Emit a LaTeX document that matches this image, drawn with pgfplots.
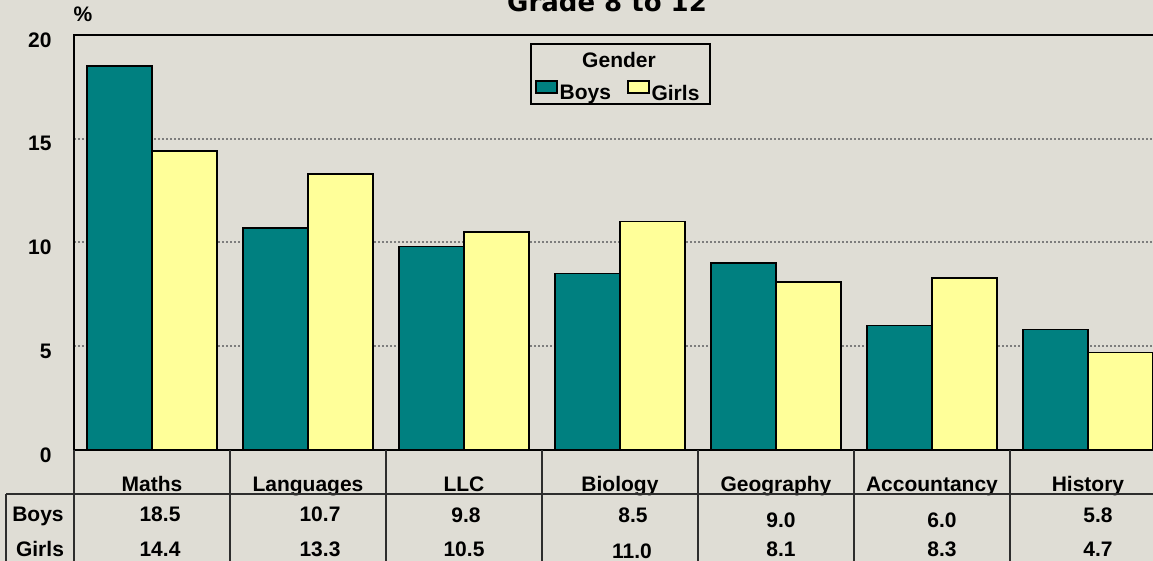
\documentclass[border=0pt]{standalone}
\usepackage{fontspec}
\setmainfont{Liberation Sans}
\newfontfamily\titlefont{DejaVu Sans}
\usepackage{pgfplots}
\pgfplotsset{compat=1.18}
\definecolor{bgcol}{RGB}{223,221,213}
\definecolor{boys}{RGB}{0,128,128}
\definecolor{girls}{RGB}{255,255,153}
\definecolor{gridc}{RGB}{125,125,125}
\definecolor{tabline}{RGB}{45,45,45}
\pgfplotsset{barleg/.style={legend image code/.code={\draw[##1] (0pt,0pt) rectangle (21pt,12pt);}}}

\begin{document}
\begin{tikzpicture}[x=1pt,y=1pt,
  lab/.style={font=\fontsize{21}{25}\selectfont\bfseries, anchor=base, inner sep=0pt}]
\useasboundingbox (0,0) rectangle (1153,561);
\fill[bgcol] (0,0) rectangle (1153,561);
\node[anchor=base, font=\titlefont\bfseries\fontsize{26}{30}\selectfont] at (607,549) {Grade 8 to 12};
\node[lab] at (83,539) {\%};

\begin{axis}[
  at={(74pt,111pt)}, anchor=south west,
  scale only axis, width=1092pt, height=415pt,
  ybar=0pt, bar width=65pt,
  xmin=-0.5, xmax=6.5, ymin=0, ymax=20,
  xtick={0,...,6},
  xticklabels={Maths,Languages,LLC,Biology,Geography,Accountancy,History},
  ytick={0,5,10,15,20},
  major tick length=0pt,
  ymajorgrids,
  grid style={gridc, line width=2pt, dash pattern=on 2pt off 2pt},
  axis line style={black, line width=1.3pt},
  tick label style={font=\fontsize{21}{25}\selectfont\bfseries},
  /pgf/number format/assume math mode=true,
  xticklabel style={anchor=base, yshift=-42pt},
  yticklabel style={anchor=east, xshift=-19pt, yshift=-5pt},
  clip=false,
  legend columns=2,
  legend style={at={(0.4222,0.8627)}, anchor=west, draw=none, fill=none,
    inner sep=0pt, font=\fontsize{21}{25}\selectfont\bfseries,
    nodes={inner sep=2pt},
    /tikz/every even column/.append style={column sep=14pt}},
]
\addplot[fill=boys, draw=black, line width=1.5pt, barleg]
  coordinates {(0,18.5) (1,10.7) (2,9.8) (3,8.5) (4,9.0) (5,6.0) (6,5.8)};
\addlegendentry{Boys}
\addplot[fill=girls, draw=black, line width=1.5pt, barleg]
  coordinates {(0,14.4) (1,13.3) (2,10.5) (3,11.0) (4,8.1) (5,8.3) (6,4.7)};
\addlegendentry{Girls}
\draw[black, line width=2.4pt] (axis cs:-0.5,0) -- (axis cs:6.5,0);
\end{axis}

% legend frame and title
\draw[black, line width=1.3pt] (531,457) rectangle (710,517);
\node[lab] at (619,493) {Gender};

% data table under the chart
\draw[tabline, line width=1.2pt] (6,67) -- (1153,67);
\draw[tabline, line width=1.2pt] (6,67) -- (6,0);
\foreach \x in {74,230,386,542,698,854,1010}
  \draw[tabline, line width=1.2pt] (\x,111) -- (\x,0);
\node[lab] at (38,39) {Boys};
\node[lab] at (40,4) {Girls};
\node[lab] at (160,39) {18.5};
\node[lab] at (320,39) {10.7};
\node[lab] at (466,38) {9.8};
\node[lab] at (633,38) {8.5};
\node[lab] at (781,33) {9.0};
\node[lab] at (942,33) {6.0};
\node[lab] at (1098,38) {5.8};
\node[lab] at (160,4) {14.4};
\node[lab] at (320,4) {13.3};
\node[lab] at (464,4) {10.5};
\node[lab] at (632,2) {11.0};
\node[lab] at (781,4) {8.1};
\node[lab] at (942,4) {8.3};
\node[lab] at (1098,4) {4.7};
\end{tikzpicture}
\end{document}
